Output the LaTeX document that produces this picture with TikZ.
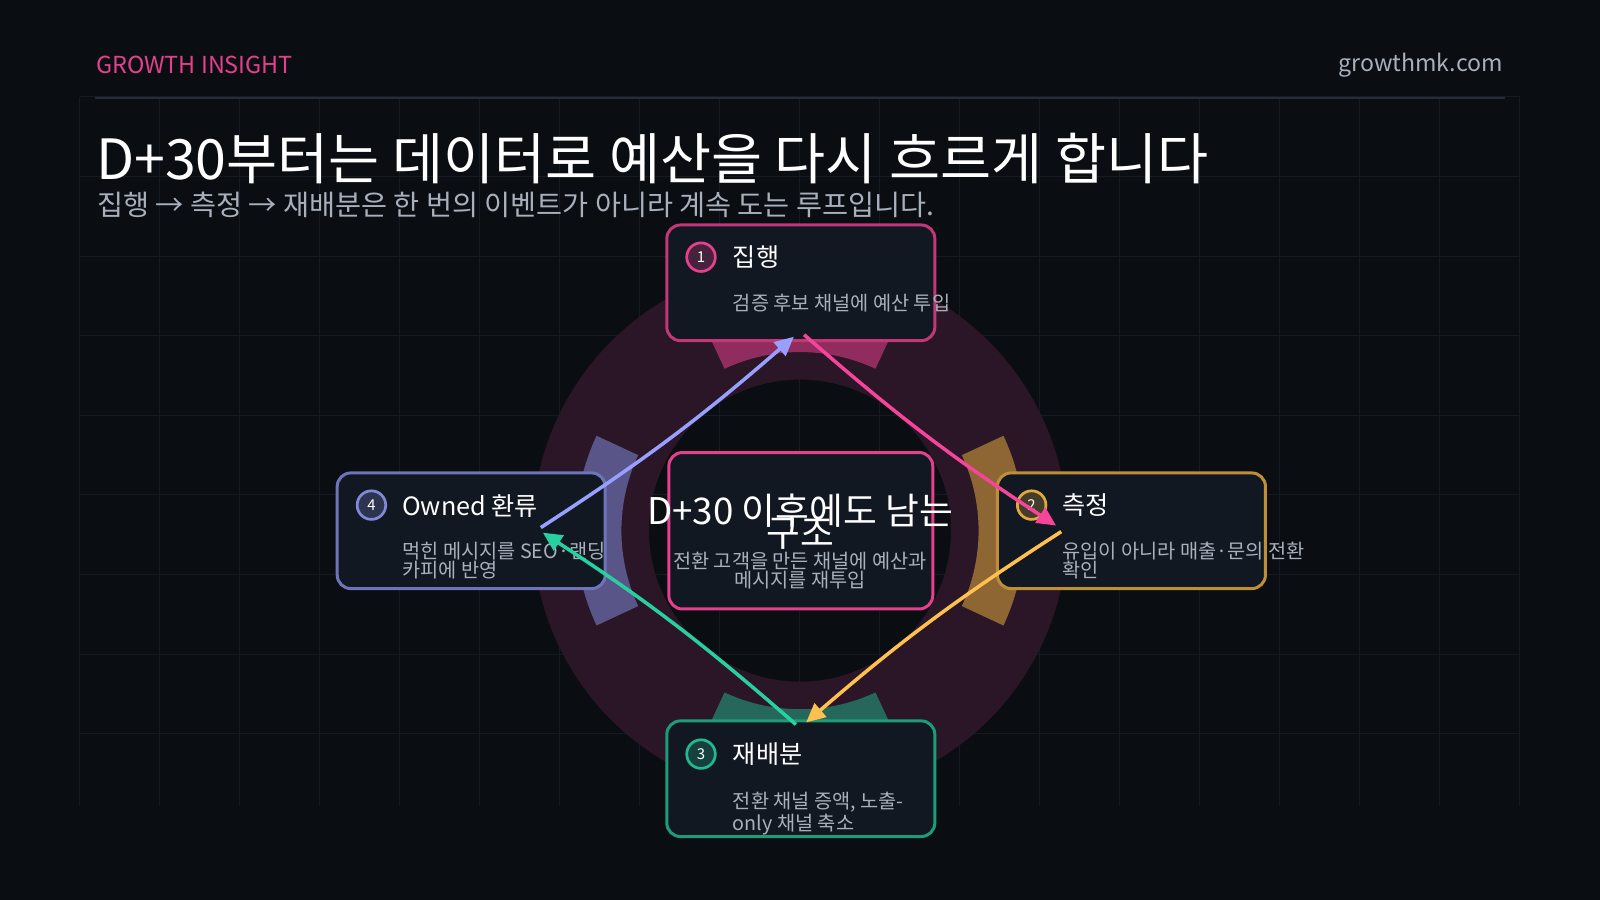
\documentclass[tikz,border=0pt]{standalone}
\usepackage{fontspec}
\setmainfont{Noto Sans CJK KR}
\usetikzlibrary{arrows.meta,calc}
\definecolor{bg}{HTML}{0A0D12}
\definecolor{gridc}{HTML}{151B23}
\definecolor{ring}{HTML}{2A1626}
\definecolor{boxf}{HTML}{111821}
\definecolor{pinkc}{HTML}{E5408C}
\definecolor{orangec}{HTML}{E0A840}
\definecolor{tealc}{HTML}{22B890}
\definecolor{purplec}{HTML}{8088D8}
\definecolor{arrpink}{HTML}{F5449A}
\definecolor{arrorange}{HTML}{FFC050}
\definecolor{arrteal}{HTML}{28D0A0}
\definecolor{arrpurple}{HTML}{98A0FF}
\definecolor{graytxt}{HTML}{A8B0BC}
\definecolor{linec}{HTML}{262D36}
\begin{document}
\begin{tikzpicture}[x=0.75pt,y=-0.75pt,
  card/.style={draw=#1,line width=2.2pt,fill=boxf,rounded corners=10pt,minimum width=197pt,minimum height=85pt,anchor=north west,inner sep=0pt},
  numc/.style={circle,draw=#1,line width=2pt,fill=#1!25!boxf,minimum size=21pt,inner sep=0pt,font=\fontsize{11}{11}\selectfont,text=white},
  ttl/.style={anchor=west,text=white,font=\fontsize{18.5}{18}\selectfont,inner sep=0pt},
  dsc/.style={anchor=north west,text=graytxt,font=\fontsize{14.5}{14.2}\selectfont,align=left,inner sep=0pt},
  arr/.style={line width=2.6pt,draw=#1,-{Triangle[length=14pt,width=13pt]},shorten >=0pt}]
\fill[bg] (0,0) rectangle (1568,882);
\useasboundingbox (0,0) rectangle (1568,882);
% grid
\foreach \x in {78,156.4,...,1490} \draw[gridc,line width=0.8pt] (\x,95) -- (\x,790);
\foreach \y in {95,173,...,790} \draw[gridc,line width=0.8pt] (78,\y) -- (1490,\y);
% ring
\fill[ring,even odd rule] (784,520) circle[radius=262] (784,520) circle[radius=148];
\fill[tealc!50!ring] ($(784,520)+(65:175)$) arc[start angle=65,end angle=115,radius=175] -- ($(784,520)+(115:220)$) arc[start angle=115,end angle=65,radius=220] -- cycle;
\fill[orangec!55!ring] ($(784,520)+(-25:175)$) arc[start angle=-25,end angle=25,radius=175] -- ($(784,520)+(25:220)$) arc[start angle=25,end angle=-25,radius=220] -- cycle;
\fill[pinkc!55!ring] ($(784,520)+(245:175)$) arc[start angle=245,end angle=295,radius=175] -- ($(784,520)+(295:220)$) arc[start angle=295,end angle=245,radius=220] -- cycle;
\fill[purplec!55!ring] ($(784,520)+(155:175)$) arc[start angle=155,end angle=205,radius=175] -- ($(784,520)+(205:220)$) arc[start angle=205,end angle=155,radius=220] -- cycle;
% header
\node[anchor=west,text=pinkc,font=\fontsize{17.2}{17}\selectfont,inner sep=0pt] (hdr) at (94,64) {GROWTH INSIGHT};
\node[anchor=east,text=graytxt,font=\fontsize{17}{17}\selectfont,inner sep=0pt] (site) at (1473,64) {growthmk.com};
\draw[linec,line width=2pt] (93,96) -- (1475,96);
\node[anchor=west,text=white,font=\fontsize{40.8}{41}\selectfont,inner sep=0pt] (title) at (94,155) {D+30부터는 데이터로 예산을 다시 흐르게 합니다};
\node[anchor=west,text=graytxt,font=\fontsize{20.8}{21}\selectfont,inner sep=0pt] (sub) at (95,201) {집행 → 측정 → 재배분은 한 번의 이벤트가 아니라 계속 도는 루프입니다.};
% cards
\node[card=pinkc!85!black] (c1) at (652,219) {};
\node[card=orangec!85!black] (c2) at (976,462) {};
\node[card=tealc!85!black] (c3) at (652,705) {};
\node[card=purplec!85!black] (c4) at (329,462) {};
\node[card=pinkc,minimum height=115pt,minimum width=194pt] (c0) at (654,442) {};
\node[numc=pinkc] (n1) at (687,252) {1};
\node[ttl] (t1) at (718,252) {집행};
\node[dsc] (d1) at (718,288) {검증 후보 채널에 예산 투입};
\node[numc=orangec] (n2) at (1011,495) {2};
\node[ttl] (t2) at (1041,495) {측정};
\node[dsc] (d2) at (1041,531) {유입이 아니라 매출·문의 전환\\확인};
\node[numc=tealc] (n3) at (687,739) {3};
\node[ttl] (t3) at (718,739) {재배분};
\node[dsc] (d3) at (718,776) {전환 채널 증액, 노출-\\only 채널 축소};
\node[numc=purplec] (n4) at (364,495) {4};
\node[ttl] (t4) at (394,496) {Owned 환류};
\node[dsc] (d4) at (394,531) {먹힌 메시지를 SEO·랜딩\\카피에 반영};
\node[text=white,font=\fontsize{27}{27}\selectfont,inner sep=0pt] (ct) at (784,500) {D+30 이후에도 남는};
\node[text=white,font=\fontsize{27}{27}\selectfont,inner sep=0pt] (ct2) at (784,523) {구조};
\node[text=graytxt,font=\fontsize{14.5}{14.2}\selectfont,align=center,inner sep=0pt] (cd) at (784,559) {전환 고객을 만든 채널에 예산과\\메시지를 재투입};
% arrows
\coordinate (a1s) at (788,328); \coordinate (a1e) at (1035,515);
\coordinate (a2s) at (1040,521); \coordinate (a2e) at (790,708);
\coordinate (a3s) at (780,710); \coordinate (a3e) at (532,522);
\coordinate (a4s) at (530,517); \coordinate (a4e) at (778,330);
\draw[arr=arrpink] (a1s) to[bend right=4] (a1e);
\draw[arr=arrorange] (a2s) to[bend right=4] (a2e);
\draw[arr=arrteal] (a3s) to[bend right=4] (a3e);
\draw[arr=arrpurple] (a4s) to[bend right=4] (a4e);
\end{tikzpicture}
\end{document}
